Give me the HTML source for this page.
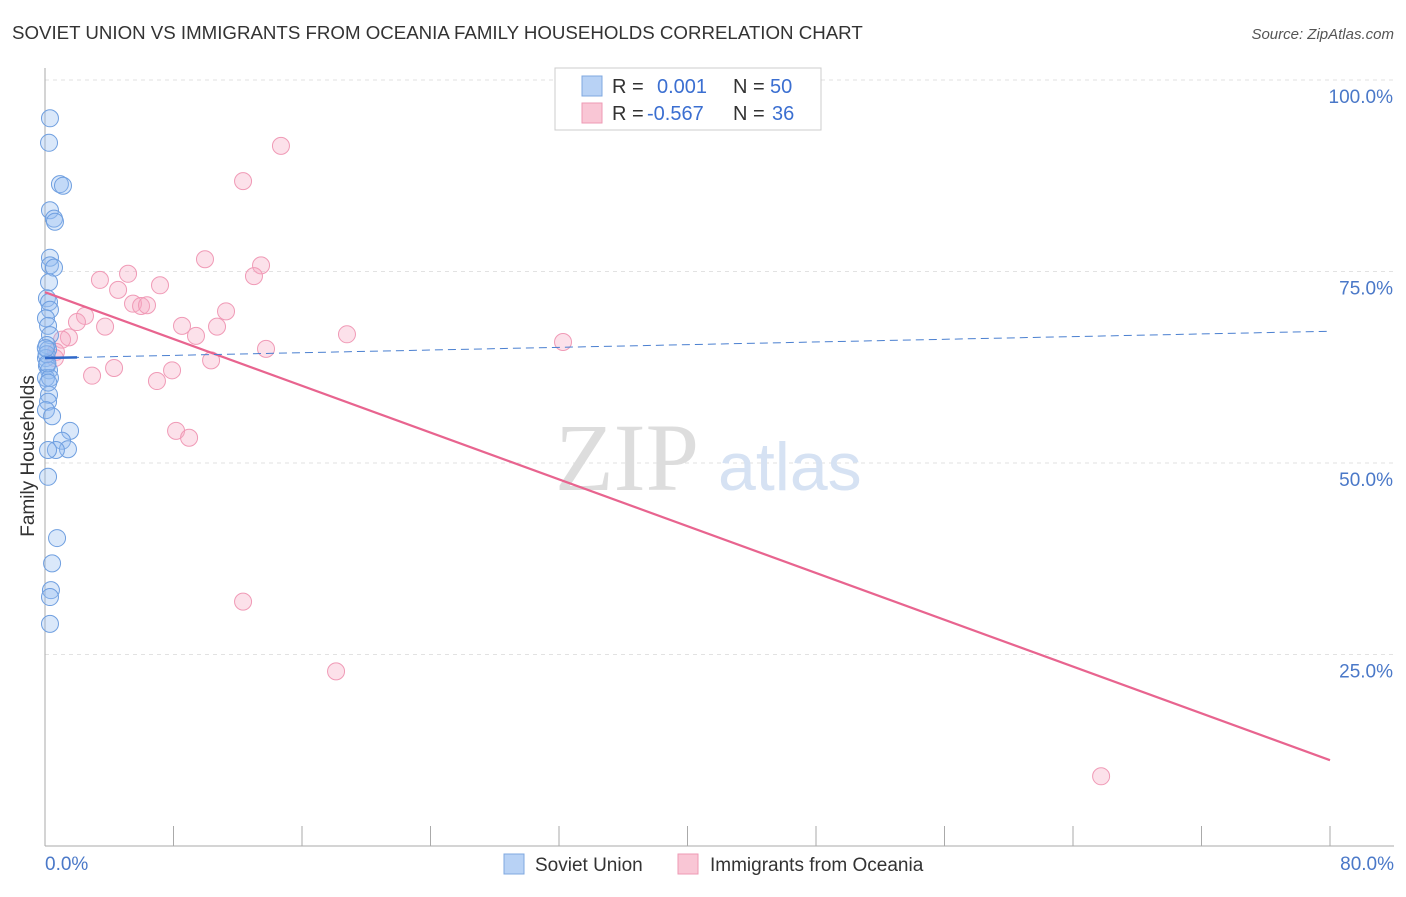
<!DOCTYPE html>
<html><head><meta charset="utf-8"><style>
body{margin:0;background:#fff;font-family:"Liberation Sans",sans-serif}
</style></head><body>
<svg width="1406" height="892" xmlns="http://www.w3.org/2000/svg" style="font-family:'Liberation Sans',sans-serif">
<text x="12" y="39" font-size="18.7" fill="#333">SOVIET UNION VS IMMIGRANTS FROM OCEANIA FAMILY HOUSEHOLDS CORRELATION CHART</text>
<text x="1394" y="39" font-size="15" fill="#555" font-style="italic" text-anchor="end">Source: ZipAtlas.com</text>
<g id="grid"></g>
<text x="555" y="490" font-size="96" fill="#ddd" font-family="'Liberation Serif',serif">ZIP</text>
<text x="718" y="490" font-size="68" fill="#d6e2f3">atlas</text>
<line x1="45" y1="68" x2="45" y2="846" stroke="#aaa"/>
<line x1="45" y1="846" x2="1394" y2="846" stroke="#aaa"/>
<g id="ticks"></g>
<g id="ylabels"></g>
<text x="45" y="870" font-size="19" fill="#4a78c8">0.0%</text>
<text x="1394" y="870" font-size="19" fill="#4a78c8" text-anchor="end">80.0%</text>
<text transform="translate(34,456) rotate(-90)" font-size="19" fill="#333" text-anchor="middle">Family Households</text>
<g id="marks"></g>
<g>
<rect x="555" y="68" width="266" height="62" fill="#fff" stroke="#ccc"/>
<rect x="582" y="76" width="20" height="20" fill="#b8d2f5" stroke="#7fa8e0"/>
<rect x="582" y="103" width="20" height="20" fill="#f9c6d5" stroke="#ee9ab4"/>
<text x="612" y="93" font-size="20" fill="#333">R =</text>
<text x="657" y="93" font-size="20" fill="#3b6fd1">0.001</text>
<text x="733" y="93" font-size="20" fill="#333">N =</text>
<text x="770" y="93" font-size="20" fill="#3b6fd1">50</text>
<text x="612" y="120" font-size="20" fill="#333">R =</text>
<text x="647" y="120" font-size="20" fill="#3b6fd1">-0.567</text>
<text x="733" y="120" font-size="20" fill="#333">N =</text>
<text x="772" y="120" font-size="20" fill="#3b6fd1">36</text>
</g>
<g>
<rect x="504" y="854" width="20" height="20" fill="#b8d2f5" stroke="#7fa8e0"/>
<text x="535" y="871" font-size="19" fill="#333">Soviet Union</text>
<rect x="678" y="854" width="20" height="20" fill="#f9c6d5" stroke="#ee9ab4"/>
<text x="710" y="871" font-size="19" fill="#333">Immigrants from Oceania</text>
</g>
</svg>
<script>
const blueX=[0.31,0.25,0.93,1.12,0.31,0.56,0.62,0.31,0.31,0.56,0.25,0.12,0.25,0.31,0.06,0.19,0.31,0.12,0.19,0.06,0.12,0.25,0.06,0.31,0.25,0.19,0.06,0.44,1.56,1.06,1.43,0.68,0.19,0.19,0.75,0.44,0.37,0.31,0.31,0.1,0.15,0.05,0.2];
const blueY=[95.0,91.8,86.4,86.2,83.0,81.9,81.5,76.8,75.8,75.5,73.6,71.5,71.0,70.0,68.9,67.9,66.7,65.4,64.8,63.7,62.7,62.1,61.1,61.1,58.9,58.0,56.9,56.1,54.2,52.9,51.8,51.7,51.7,48.2,40.2,36.9,33.4,32.5,29.0,64.2,63.0,65.0,60.5];
const pinkX=[14.69,12.33,9.96,13.45,13.01,3.42,5.17,4.55,7.16,5.48,5.98,6.35,11.27,2.49,1.99,3.74,8.53,10.71,9.40,18.80,1.49,1.06,0.68,0.62,13.76,32.25,10.34,4.30,2.93,7.91,6.97,8.16,8.97,12.33,18.12,65.75];
const pinkY=[91.4,86.8,76.6,75.8,74.4,73.9,74.7,72.6,73.2,70.8,70.5,70.6,69.8,69.2,68.4,67.8,67.9,67.8,66.6,66.8,66.4,66.1,64.5,63.7,64.9,65.8,63.4,62.4,61.4,62.1,60.7,54.2,53.3,31.9,22.8,9.1];
const yTicks=[25,50,75,100];
const yTickLabels=["25.0%","50.0%","75.0%","100.0%"];
const xTicks=[0,8,16,24,32,40,48,56,64,72,80];
const blueTrend=[63.7,67.2];
const pinkTrend=[72.3,11.2];
const NS="http://www.w3.org/2000/svg";
const sx=v=>45+v/80*1285, sy=v=>846-v*7.66;
function mk(t,a,p){const e=document.createElementNS(NS,t);for(const k in a)e.setAttribute(k,a[k]);document.getElementById(p).appendChild(e);return e;}
yTicks.forEach((v,i)=>{
 const g=mk('line',{x1:45,x2:1394,y1:sy(v),y2:sy(v),stroke:'#e2e2e2','stroke-dasharray':'4,4'},'grid');
 
 
 const t=mk('text',{x:1393,y:sy(v)+23,'font-size':19,fill:'#4a78c8','text-anchor':'end'},'ylabels');
 t.textContent=yTickLabels[i];
 
 
});
xTicks.forEach(v=>{
 const l=mk('line',{x1:sx(v),x2:sx(v),y1:826,y2:846,stroke:'#aaa'},'ticks');
 
 
});
pinkX.forEach((x,i)=>{
 const c=mk('circle',{cx:sx(x),cy:sy(pinkY[i]),r:8.5,fill:'rgba(246,170,195,0.35)',stroke:'#f09ab6','stroke-width':1},'marks');
 
 
});
blueX.forEach((x,i)=>{
 const c=mk('circle',{cx:sx(x),cy:sy(blueY[i]),r:8.5,fill:'rgba(150,190,240,0.35)',stroke:'#6f9fe0','stroke-width':1},'marks');
 
 
});
const pl=mk('line',{x1:sx(0),y1:sy(pinkTrend[0]),x2:sx(80),y2:sy(pinkTrend[1]),stroke:'#e8648f','stroke-width':2.2},'marks');


const bl=mk('line',{x1:sx(0),y1:sy(blueTrend[0]),x2:sx(80),y2:sy(blueTrend[1]),stroke:'#4a7fd0','stroke-width':1,'stroke-dasharray':'8,5'},'marks');


const bs=mk('line',{x1:sx(0),y1:sy(blueTrend[0]),x2:sx(2),y2:sy(blueTrend[0]+(blueTrend[1]-blueTrend[0])*2/80),stroke:'#2f68c8','stroke-width':2.5},'marks');


</script>
</body></html>
